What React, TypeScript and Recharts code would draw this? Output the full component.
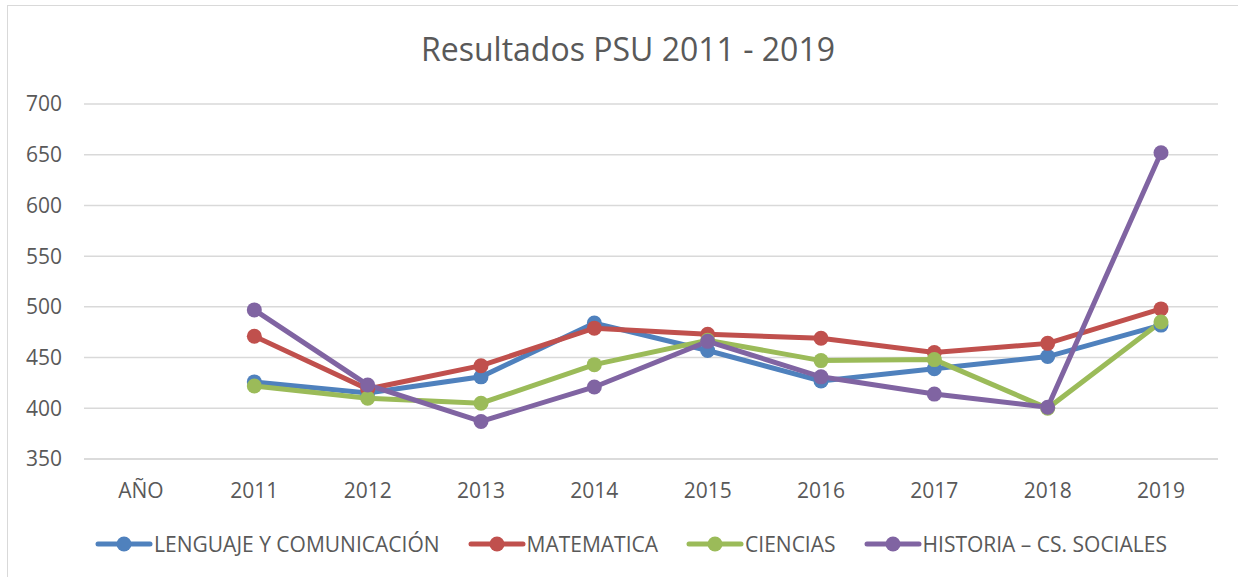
import { LineChart, Line, XAxis, YAxis, CartesianGrid, Legend } from "recharts"

const years = ["AÑO", "2011", "2012", "2013", "2014", "2015", "2016", "2017", "2018", "2019"]

// first slot (AÑO) has no values
const lenguaje = [null, 426, 415, 431, 484, 457, 427, 439, 451, 482]
const matematica = [null, 471, 419, 442, 479, 473, 469, 455, 464, 498]
const ciencias = [null, 422, 410, 405, 443, 467, 447, 448, 400, 485]
const historia = [null, 497, 423, 387, 421, 466, 431, 414, 401, 652]

const yTicks = [350, 400, 450, 500, 550, 600, 650, 700]

const series = [
  { key: "lenguaje", name: "LENGUAJE Y COMUNICACIÓN", color: "#4f81bd" },
  { key: "matematica", name: "MATEMATICA", color: "#c0504d" },
  { key: "ciencias", name: "CIENCIAS", color: "#9bbb59" },
  { key: "historia", name: "HISTORIA – CS. SOCIALES", color: "#8064a2" },
]

const data = years.map((year, i) => ({
  year,
  lenguaje: lenguaje[i],
  matematica: matematica[i],
  ciencias: ciencias[i],
  historia: historia[i],
}))

const font = "'Open Sans', sans-serif"

function LegendContent() {
  return (
    <div style={{ display: "flex", justifyContent: "center", alignItems: "center", gap: 28, paddingLeft: 36 }}>
      {series.map((s) => (
        <div key={s.key} style={{ display: "flex", alignItems: "center" }}>
          <svg width={58} height={20}>
            <line x1={3} y1={10} x2={55} y2={10} stroke={s.color} strokeWidth={5} strokeLinecap="round" />
            <circle cx={29} cy={10} r={7.5} fill={s.color} />
          </svg>
          <span style={{ fontFamily: font, fontSize: 21, color: "#595959", marginLeft: 1 }}>{s.name}</span>
        </div>
      ))}
    </div>
  )
}

export default function App() {
  return (
    <div
      style={{
        position: "absolute",
        left: 7,
        top: 5,
        width: 1240,
        height: 580,
        border: "1px solid #d9d9d9",
        background: "#fff",
      }}
    >
      <div
        style={{
          position: "absolute",
          top: 21,
          left: 0,
          width: 1240,
          textAlign: "center",
          fontFamily: font,
          fontSize: 32,
          color: "#595959",
        }}
      >
        Resultados PSU 2011 - 2019
      </div>
      <LineChart width={1222} height={570} data={data} margin={{ top: 98, right: 12, left: 0, bottom: 10 }}>
        <CartesianGrid vertical={false} stroke="#d9d9d9" strokeWidth={1.5} />
        <XAxis
          dataKey="year"
          padding={{ left: 57, right: 57 }}
          axisLine={{ stroke: "#d9d9d9", strokeWidth: 1.5 }}
          tickLine={false}
          tickSize={0}
          tickMargin={24}
          height={71}
          tick={{ fontFamily: font, fontSize: 21, fill: "#595959" }}
        />
        <YAxis
          domain={[350, 700]}
          ticks={yTicks}
          width={76}
          axisLine={false}
          tickLine={false}
          tickSize={0}
          tickMargin={22}
          tick={{ fontFamily: font, fontSize: 21, fill: "#595959" }}
        />
        <Legend verticalAlign="bottom" height={36} content={<LegendContent />} />
        {series.map((s) => (
          <Line
            key={s.key}
            dataKey={s.key}
            name={s.name}
            stroke={s.color}
            strokeWidth={5}
            dot={{ r: 7.5, fill: s.color, stroke: s.color, strokeWidth: 0 }}
            activeDot={false}
            isAnimationActive={false}
          />
        ))}
      </LineChart>
    </div>
  )
}
